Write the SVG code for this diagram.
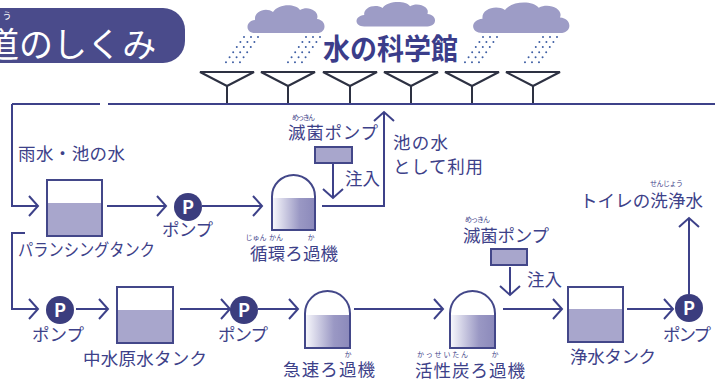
<svg xmlns="http://www.w3.org/2000/svg" width="715" height="382" viewBox="0 0 715 382">
  <defs>
    <style>
      text { font-family: "Noto Sans CJK JP", "Noto Sans", sans-serif; fill: #3d4189; }
      .lbl { font-size: 17.5px; }
      .ruby { font-size: 7px; }
      .pipe { fill: none; stroke: #3d4189; stroke-width: 2; }
      .arrow { fill: none; stroke: #3d4189; stroke-width: 2; marker-end: url(#chev); }
      .funnel { fill: none; stroke: #2d3142; stroke-width: 2; stroke-linejoin: miter; }
      .tank { fill: #ffffff; stroke: #434789; stroke-width: 2; }
      .water { fill: #a8a6cc; }
      .pump { fill: #3b3d7e; }
      .ptext { fill: #ffffff; font-size: 18px; font-weight: 700; }
      .rain { fill: none; stroke: #3f5fa4; stroke-width: 2; stroke-linecap: round; stroke-dasharray: 0 6.2; }
      .cloud { fill: #9d9cc6; }
    </style>
    <marker id="chev" markerUnits="userSpaceOnUse" markerWidth="24" markerHeight="24" viewBox="-12 -12 24 24" refX="0" refY="0" orient="auto" overflow="visible">
      <path d="M-9,-10 L0,0 L-9,10" fill="none" stroke="#3d4189" stroke-width="2"/>
    </marker>
    <linearGradient id="filterFill" x1="0" y1="0" x2="1" y2="0">
      <stop offset="0" stop-color="#f6f6fb"/>
      <stop offset="0.65" stop-color="#9a98c4"/>
      <stop offset="1" stop-color="#8c8abb"/>
    </linearGradient>
    <path id="cloud" d="M10,30 C0,30 0,18 10,17 C9,8 21,4 28,9 C33,1 50,0 55,7 C63,2 75,8 72,16 C82,17 82,30 72,30 Z"/>
  </defs>

  <!-- title banner -->
  <g id="banner">
    <rect x="-30" y="8" width="215" height="55" rx="22" fill="#4a4b8b"/>
    <text x="7" y="19" font-size="9" text-anchor="middle" style="fill:#ffffff">う</text>
    <text x="-15" y="57" font-size="34" style="fill:#ffffff">道のしくみ</text>
  </g>

  <!-- sky: clouds and rain -->
  <g id="sky">
    <use href="#cloud" class="cloud" transform="translate(245,3)"/>
    <use href="#cloud" class="cloud" transform="translate(354,0) scale(1.02,0.88)"/>
    <use href="#cloud" class="cloud" transform="translate(470,0) scale(1.25,1.1)"/>
    <path class="rain" d="M258,37 L238,65 M251,37 L231,65 M244,37 L224,65"/>
    <path class="rain" d="M320,37 L300,65 M313,37 L293,65 M306,37 L286,65"/>
    <path class="rain" d="M497,37 L477,65 M490,37 L470,65 M483,37 L463,65"/>
    <path class="rain" d="M557,37 L537,65 M550,37 L530,65 M543,37 L523,65"/>
  </g>

  <g id="museum">
    <text x="323" y="60" font-size="29" font-weight="700" textLength="135" lengthAdjust="spacingAndGlyphs" style="fill:#3b3d8a">水の科学館</text>
  </g>

  <!-- roof funnels collecting rain -->
  <g id="funnels">
    <path class="funnel" d="M200,72 H254 L227,86 Z M227,86 V103"/>
    <path class="funnel" d="M261,72 H315 L288,86 Z M288,86 V103"/>
    <path class="funnel" d="M323,72 H377 L350,86 Z M350,86 V103"/>
    <path class="funnel" d="M384,72 H438 L411,86 Z M411,86 V103"/>
    <path class="funnel" d="M445,72 H499 L472,86 Z M472,86 V103"/>
    <path class="funnel" d="M506,72 H560 L533,86 Z M533,86 V103"/>
  </g>

  <!-- connectors -->
  <g id="connectors">
    <path class="pipe" d="M12,104 H100 M108,104 H715"/>
    <path class="arrow" d="M12,104 V206 H38"/>
    <path class="arrow" d="M107,206 H166"/>
    <path class="arrow" d="M202,206 H262"/>
    <path class="arrow" d="M322,206 H384 V112"/>
    <path class="arrow" d="M333,164 V198"/>
    <path class="arrow" d="M25,233 H12 V309 H38"/>
    <path class="arrow" d="M76,309 H108"/>
    <path class="arrow" d="M180,309 H230"/>
    <path class="arrow" d="M258,309 H298"/>
    <path class="arrow" d="M354,309 H443"/>
    <path class="arrow" d="M503,309 H562"/>
    <path class="arrow" d="M510,267 V295"/>
    <path class="arrow" d="M627,309 H673"/>
    <path class="arrow" d="M689,294 V218"/>
  </g>

  <g id="rain-label">
    <text class="lbl" x="18" y="160" textLength="107">雨水・池の水</text>
  </g>

  <g id="balancing-tank">
    <rect class="tank" x="47" y="180" width="55" height="56"/>
    <rect class="water" x="48" y="203" width="53" height="32"/>
    <text class="lbl" x="18" y="256" textLength="137" lengthAdjust="spacingAndGlyphs">パランシングタンク</text>
  </g>

  <g id="pump-1">
    <circle class="pump" cx="188" cy="207" r="14"/>
    <text class="ptext" x="188" y="213.5" text-anchor="middle">P</text>
    <text class="lbl" x="162" y="236" textLength="51">ポンプ</text>
  </g>

  <g id="circulation-filter">
    <rect x="273" y="198" width="41" height="31" fill="url(#filterFill)"/>
    <path class="tank" style="fill:none" d="M272,230 V196.5 A21.5,21.5 0 0 1 315,196.5 V230 Z"/>
    <text class="ruby" x="256" y="240" text-anchor="middle">じゅん</text>
    <text class="ruby" x="276" y="240" text-anchor="middle">かん</text>
    <text class="ruby" x="311" y="240" text-anchor="middle">か</text>
    <text class="lbl" x="250" y="260" textLength="88">循環ろ過機</text>
  </g>

  <g id="sterilizer-1">
    <text class="ruby" x="292" y="120" textLength="23">めっきん</text>
    <text class="lbl" x="288" y="139" textLength="90">滅菌ポンプ</text>
    <rect class="tank" style="fill:#a8a6cc" x="315" y="147" width="37" height="16"/>
    <text class="lbl" x="345" y="185" textLength="35">注入</text>
  </g>

  <g id="pond-use">
    <text class="lbl" x="393" y="149" textLength="55">池の水</text>
    <text class="lbl" x="393" y="173" textLength="90">として利用</text>
  </g>

  <g id="pump-2">
    <circle class="pump" cx="60" cy="310" r="14"/>
    <text class="ptext" x="60" y="316.5" text-anchor="middle">P</text>
    <text class="lbl" x="32" y="341" textLength="52">ポンプ</text>
  </g>

  <g id="raw-water-tank">
    <rect class="tank" x="117" y="287" width="56" height="56"/>
    <rect class="water" x="118" y="310" width="54" height="32"/>
    <text class="lbl" x="83" y="365" textLength="124">中水原水タンク</text>
  </g>

  <g id="pump-3">
    <circle class="pump" cx="244" cy="310" r="14"/>
    <text class="ptext" x="244" y="316.5" text-anchor="middle">P</text>
    <text class="lbl" x="218" y="341" textLength="50">ポンプ</text>
  </g>

  <g id="rapid-filter">
    <rect x="306" y="315" width="43" height="32" fill="url(#filterFill)"/>
    <path class="tank" style="fill:none" d="M305,348 V313.5 A22.5,22.5 0 0 1 350,313.5 V348 Z"/>
    <text class="ruby" x="348" y="357" text-anchor="middle">か</text>
    <text class="lbl" x="283" y="376" textLength="92">急速ろ過機</text>
  </g>

  <g id="carbon-filter">
    <rect x="451" y="315" width="43" height="32" fill="url(#filterFill)"/>
    <path class="tank" style="fill:none" d="M450,348 V313.5 A22.5,22.5 0 0 1 495,313.5 V348 Z"/>
    <text class="ruby" x="417" y="357" textLength="51">かっせいたん</text>
    <text class="ruby" x="495" y="357" text-anchor="middle">か</text>
    <text class="lbl" x="415" y="377" textLength="110">活性炭ろ過機</text>
  </g>

  <g id="sterilizer-2">
    <text class="ruby" x="465" y="222" textLength="25">めっきん</text>
    <text class="lbl" x="463" y="242" textLength="86">滅菌ポンプ</text>
    <rect class="tank" style="fill:#a8a6cc" x="491" y="249" width="36" height="16"/>
    <text class="lbl" x="527" y="286" textLength="35">注入</text>
  </g>

  <g id="clean-water-tank">
    <rect class="tank" x="568" y="287" width="55" height="55"/>
    <rect class="water" x="569" y="309" width="53" height="32"/>
    <text class="lbl" x="570" y="363" textLength="86">浄水タンク</text>
  </g>

  <g id="pump-4">
    <circle class="pump" cx="689" cy="308" r="14"/>
    <text class="ptext" x="689" y="314.5" text-anchor="middle">P</text>
    <text class="lbl" x="663" y="341" textLength="48">ポンプ</text>
  </g>

  <g id="toilet-use">
    <text class="ruby" x="650" y="186" textLength="33">せんじょう</text>
    <text class="lbl" x="580" y="207" textLength="123">トイレの洗浄水</text>
  </g>
</svg>
